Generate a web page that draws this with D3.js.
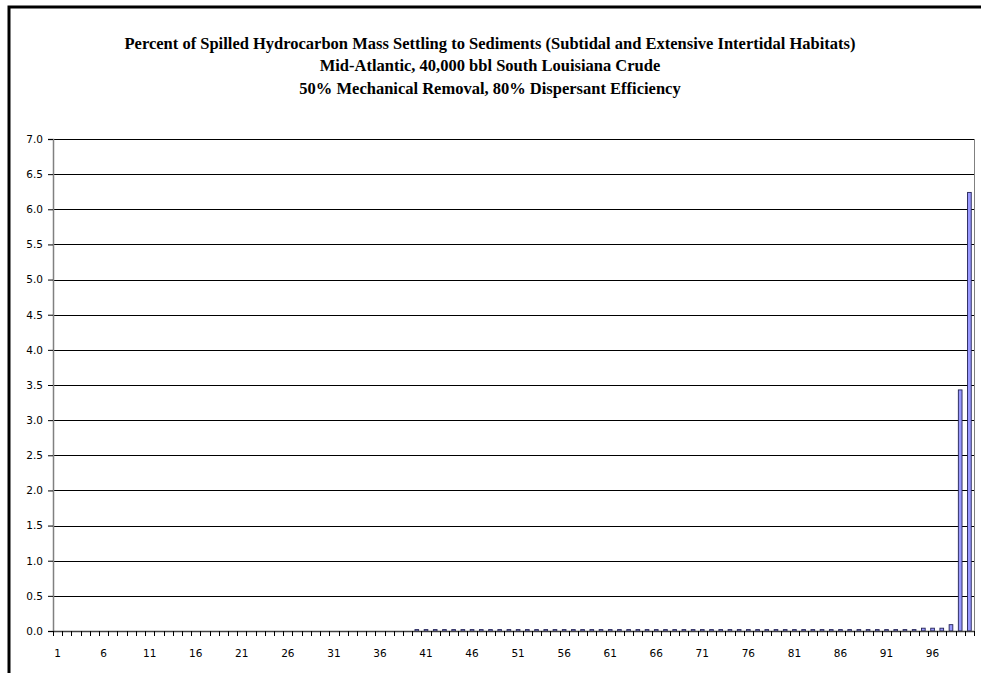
<!DOCTYPE html>
<html>
<head>
<meta charset="utf-8">
<script src="https://cdn.jsdelivr.net/npm/d3@7"></script>
<style>
  html, body { margin: 0; padding: 0; background: #fff; }
  svg { display: block; }
</style>
</head>
<body>
<svg id="chart" width="981" height="673"></svg>
<script>
// Chart titles
const titleLines = [
  "Percent of Spilled Hydrocarbon Mass Settling to Sediments (Subtidal and Extensive Intertidal Habitats)",
  "Mid-Atlantic, 40,000 bbl South Louisiana Crude",
  "50% Mechanical Removal, 80% Dispersant Efficiency"
];

// Category labels 1..100 (ranked runs)
const categories = d3.range(1, 101).map(String);

// Percent of mass settling to sediments, per category
const values = [
  0, 0, 0, 0, 0, 0, 0, 0, 0, 0,
  0, 0, 0, 0, 0, 0, 0, 0, 0, 0,
  0, 0, 0, 0, 0, 0, 0, 0, 0, 0,
  0, 0, 0, 0, 0, 0, 0, 0, 0, 0.02,
  0.02, 0.02, 0.02, 0.02, 0.02, 0.02, 0.02, 0.02, 0.02, 0.02,
  0.02, 0.02, 0.02, 0.02, 0.02, 0.02, 0.02, 0.02, 0.02, 0.02,
  0.02, 0.02, 0.02, 0.02, 0.02, 0.02, 0.02, 0.02, 0.02, 0.02,
  0.02, 0.02, 0.02, 0.02, 0.02, 0.02, 0.02, 0.02, 0.02, 0.02,
  0.02, 0.02, 0.02, 0.02, 0.02, 0.02, 0.02, 0.02, 0.02, 0.02,
  0.02, 0.02, 0.02, 0.02, 0.04, 0.04, 0.04, 0.09, 3.43, 6.24
];

// Y axis ticks
const yTicks = [0, 0.5, 1, 1.5, 2, 2.5, 3, 3.5, 4, 4.5, 5, 5.5, 6, 6.5, 7];

const svg = d3.select("#chart");

// Outer chart frame
svg.append("rect")
  .attr("x", 9).attr("y", 7)
  .attr("width", 1000).attr("height", 700)
  .attr("fill", "none")
  .attr("stroke", "#000")
  .attr("stroke-width", 3);

// Title block
const title = svg.append("g")
  .attr("font-family", "'Liberation Serif', 'Times New Roman', serif")
  .attr("font-weight", "bold")
  .attr("font-size", 16.5)
  .attr("text-anchor", "middle");
title.selectAll("text")
  .data(titleLines)
  .join("text")
  .attr("x", 490)
  .attr("y", (d, i) => 49 + i * 22.3)
  .text(d => d);

const plot = { left: 53, right: 974, top: 139, bottom: 631 };

const x = d3.scaleBand()
  .domain(categories)
  .range([plot.left, plot.right])
  .paddingInner(0.6)
  .paddingOuter(0.3);

const y = d3.scaleLinear()
  .domain([0, 7])
  .range([plot.bottom, plot.top]);

// Horizontal gridlines
svg.append("g")
  .selectAll("line")
  .data(yTicks.filter(t => t > 0))
  .join("line")
  .attr("x1", plot.left).attr("x2", plot.right)
  .attr("y1", d => Math.round(y(d)) + 0.5)
  .attr("y2", d => Math.round(y(d)) + 0.5)
  .attr("stroke", "#000")
  .attr("stroke-width", 1);

// Plot area right edge
svg.append("line")
  .attr("x1", plot.right + 0.5).attr("x2", plot.right + 0.5)
  .attr("y1", plot.top).attr("y2", plot.bottom)
  .attr("stroke", "#808080");

// Bars
svg.append("g")
  .selectAll("rect")
  .data(values.map((v, i) => ({ c: categories[i], v })).filter(d => d.v > 0))
  .join("rect")
  .attr("x", d => x(d.c))
  .attr("width", x.bandwidth())
  .attr("y", d => y(d.v))
  .attr("height", d => y(0) - y(d.v))
  .attr("fill", "#9999ff")
  .attr("stroke", "#222255")
  .attr("stroke-width", 0.9);

// Y axis
const yAxis = svg.append("g")
  .attr("transform", `translate(${plot.left},0)`)
  .call(d3.axisLeft(y).tickValues(yTicks).tickFormat(d3.format(".1f")).tickSize(5).tickPadding(5));
yAxis.select(".domain").attr("stroke", "#808080").attr("stroke-width", 1.5);
yAxis.selectAll(".tick line").attr("stroke", "#000");
yAxis.selectAll("text")
  .attr("font-family", "'DejaVu Sans', Tahoma, sans-serif")
  .attr("font-size", 10.5)
  .attr("fill", "#000");

// X axis baseline and category boundary ticks
const xg = svg.append("g");
xg.append("line")
  .attr("x1", plot.left).attr("x2", plot.right)
  .attr("y1", plot.bottom + 0.5).attr("y2", plot.bottom + 0.5)
  .attr("stroke", "#404040")
  .attr("stroke-width", 1.5);
const boundaries = categories.map(c => x(c) + x.bandwidth() / 2 - x.step() / 2)
  .concat([x(categories[categories.length - 1]) + x.bandwidth() / 2 + x.step() / 2]);
xg.selectAll("line.tick")
  .data(boundaries)
  .join("line")
  .attr("class", "tick")
  .attr("x1", d => Math.round(d) + 0.5).attr("x2", d => Math.round(d) + 0.5)
  .attr("y1", plot.bottom).attr("y2", plot.bottom + 5)
  .attr("stroke", "#000");

// X labels every fifth category
xg.selectAll("text")
  .data(categories.filter((c, i) => i % 5 === 0 && i < 100))
  .join("text")
  .attr("x", d => x(d) + x.bandwidth() / 2)
  .attr("y", 657)
  .attr("text-anchor", "middle")
  .attr("font-family", "'DejaVu Sans', Tahoma, sans-serif")
  .attr("font-size", 10.5)
  .attr("fill", "#000")
  .text(d => d);
</script>
</body>
</html>
